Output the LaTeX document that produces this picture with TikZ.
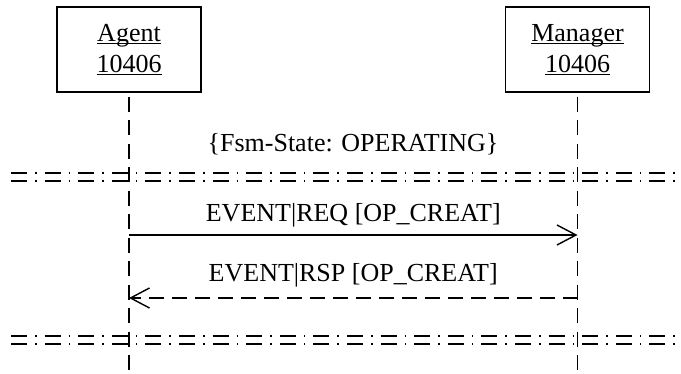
\documentclass[tikz,border=0pt]{standalone}
\usepackage{fontspec}
\setmainfont{Liberation Serif}
\usetikzlibrary{arrows.meta}
\newcommand\ulname[1]{\setbox0\hbox{#1}\rlap{\rule[-2.6pt]{\wd0}{1.3pt}}\box0}

\begin{document}
\begin{tikzpicture}[x=1pt, y=-1pt, line width=1.4pt,
	font=\fontsize{26}{31}\selectfont,
	lifebox/.style={draw, minimum width=144pt, minimum height=85pt, align=center, inner sep=0pt},
	lifeline/.style={dash pattern=on 15pt off 8.5pt},
	fragline/.style={line width=1.3pt, dash pattern=on 16pt off 8pt on 1.6pt off 8pt},
	msg/.style={-{Straight Barb[length=19pt, width=20pt, line width=1.4pt]}},
	reply/.style={msg, dash pattern=on 15pt off 8pt}]
	\useasboundingbox (0,0) rectangle (681,374);
	\node[lifebox] (agent) at (129,49.5) {\ulname{Agent}\\\ulname{10406}};
	\node[lifebox] (manager) at (577.5,49.5) {\ulname{Manager}\\\ulname{10406}};
	\coordinate (agentend) at (129,374);
	\coordinate (managerend) at (577.5,374);
	\draw[lifeline, shorten <=4pt] (agent.south) -- (agentend);
	\draw[lifeline, shorten <=4pt] (manager.south) -- (managerend);
	\node[anchor=base] (state) at (353,152) {\{Fsm-State: OPERATING\}};
	\foreach \y in {173,181,336,344}
		\draw[fragline] (11,\y) -- (681,\y);
	\coordinate (reqA) at (129,235);
	\coordinate (reqM) at (577.5,235);
	\coordinate (rspA) at (129,298);
	\coordinate (rspM) at (577.5,298);
	\draw[msg] (reqA) -- (reqM) node [midway, anchor=base, yshift=13pt] (req) {EVENT|REQ [OP\_CREAT]};
	\draw[reply] (rspM) -- (rspA) node [midway, anchor=base, yshift=16pt] (rsp) {EVENT|RSP [OP\_CREAT]};
\end{tikzpicture}
\end{document}
